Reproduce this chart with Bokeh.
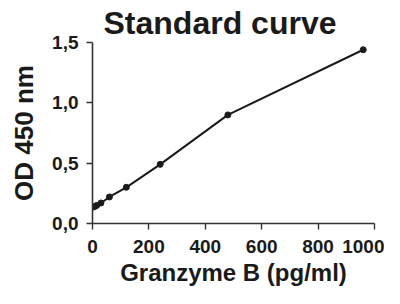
from bokeh.plotting import figure
from bokeh.models import Range1d, FixedTicker, CustomJSTickFormatter
from bokeh.embed import file_html
from bokeh.resources import INLINE

# Data
conc = [0, 7.5, 15, 30, 60, 120, 240, 480, 960]          # Granzyme B (pg/ml)
od = [0.135, 0.14, 0.15, 0.17, 0.22, 0.30, 0.49, 0.90, 1.44]  # OD 450 nm
x_ticks = [0, 200, 400, 600, 800, 1000]
y_ticks = [0.0, 0.5, 1.0, 1.5]

FONT = "Liberation Sans"
INK = "#1a1a1a"

p = figure(width=384, height=288, output_backend="svg", toolbar_location=None,
           x_range=Range1d(0, 1000), y_range=Range1d(0, 1.5),
           min_border_left=92, min_border_right=10, min_border_bottom=62,
           min_border_top=0, title="Standard curve")

p.title.text_font = FONT
p.title.text_font_style = "bold"
p.title.text_font_size = "32px"
p.title.text_color = INK
p.title.align = "left"
p.title.offset = 11
p.title.standoff = 4

p.outline_line_color = None
p.grid.grid_line_color = None
p.background_fill_color = "white"
p.border_fill_color = "white"

p.line(conc, od, line_color=INK, line_width=2)
p.scatter(conc, od, size=6, color=INK)

for ax in (p.xaxis[0], p.yaxis[0]):
    ax.axis_line_color = "#333333"
    ax.axis_line_width = 1.6
    ax.major_tick_line_color = "#333333"
    ax.major_tick_line_width = 1.4
    ax.major_tick_out = 6
    ax.major_tick_in = 0
    ax.minor_tick_line_color = None
    ax.major_label_text_font = FONT
    ax.major_label_text_font_style = "bold"
    ax.major_label_text_font_size = "19px"
    ax.major_label_text_color = INK
    ax.axis_label_text_font = FONT
    ax.axis_label_text_font_style = "bold"
    ax.axis_label_text_color = INK

p.xaxis[0].ticker = FixedTicker(ticks=x_ticks)
p.xaxis[0].bounds = (-25, 1000)
p.xaxis[0].axis_label = "Granzyme B (pg/ml)"
p.xaxis[0].axis_label_text_font_size = "24px"
p.xaxis[0].major_label_standoff = 10
p.xaxis[0].axis_label_standoff = 3

p.yaxis[0].ticker = FixedTicker(ticks=y_ticks)
p.yaxis[0].bounds = (-0.05, 1.5)
p.yaxis[0].formatter = CustomJSTickFormatter(code="return tick.toFixed(1).replace('.', ',');")
p.yaxis[0].axis_label = "OD 450 nm"
p.yaxis[0].axis_label_text_font_size = "26px"
p.yaxis[0].major_label_standoff = 8
p.yaxis[0].axis_label_standoff = 10

open("out.html", "w").write(file_html(p, INLINE))
